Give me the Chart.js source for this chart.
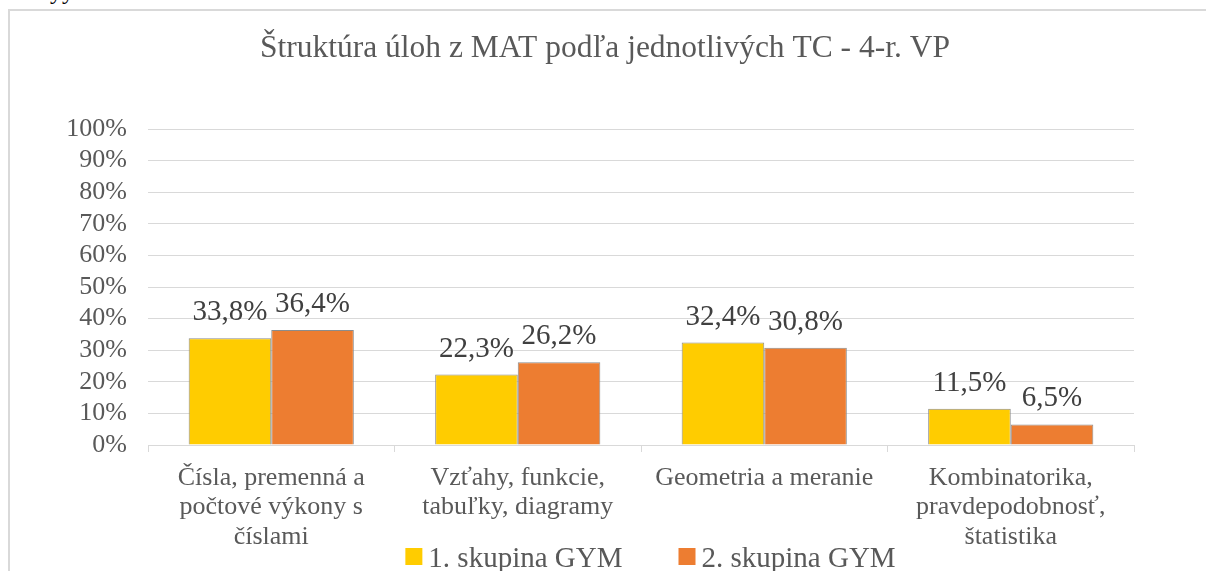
<!DOCTYPE html>
<html>
<head>
<meta charset="utf-8">
<script src="https://cdn.jsdelivr.net/npm/chart.js@4.4.1/dist/chart.umd.min.js"></script>
<style>
    html, body { margin: 0; padding: 0; background: #fff; overflow: hidden; }
    #frame {
        position: absolute; left: 8px; top: 9px; width: 1220px; height: 600px;
        border-left: 2px solid #d9d9d9; border-top: 2px solid #d9d9d9;
    }
    #clip {
        position: absolute; left: 50px; top: -22px;
        font: 24px "Liberation Serif", serif; color: #000;
    }
    #wrap { position: absolute; left: 0; top: 0; width: 1206px; height: 571px; }
</style>
</head>
<body>
<div id="clip">yy</div>
<div id="frame"></div>
<div id="wrap"><canvas id="chart" width="1206" height="571"></canvas></div>
<script>
var chartTitle = 'Štruktúra úloh z MAT podľa jednotlivých TC - 4-r. VP';
var categories = [
    ['Čísla, premenná a', 'počtové výkony s', 'číslami'],
    ['Vzťahy, funkcie,', 'tabuľky, diagramy'],
    ['Geometria a meranie'],
    ['Kombinatorika,', 'pravdepodobnosť,', 'štatistika']
];
var seriesNames = ['1. skupina GYM', '2. skupina GYM'];
var group1 = [33.8, 22.3, 32.4, 11.5];
var group2 = [36.4, 26.2, 30.8, 6.5];
var yTicks = [0, 10, 20, 30, 40, 50, 60, 70, 80, 90, 100];

var serif = '"Liberation Serif", "Times New Roman", serif';
var grey = '#595959';

function fmt(v) {
    return v.toFixed(1).replace('.', ',') + '%';
}

// title, value labels and legend are drawn here so they can sit where Excel put them
var extras = {
    id: 'extras',
    afterDatasetsDraw: function(chart) {
        var ctx = chart.ctx;
        ctx.save();
        ctx.font = '29px ' + serif;
        ctx.fillStyle = '#404040';
        ctx.textAlign = 'center';
        ctx.textBaseline = 'alphabetic';
        chart.data.datasets.forEach(function(ds, i) {
            chart.getDatasetMeta(i).data.forEach(function(bar, j) {
                ctx.fillText(fmt(ds.data[j]), bar.x, bar.y - 18);
            });
        });
        ctx.restore();
    },
    afterDraw: function(chart) {
        var ctx = chart.ctx;
        ctx.save();
        // title
        ctx.font = '31.5px ' + serif;
        ctx.fillStyle = grey;
        ctx.textAlign = 'center';
        ctx.textBaseline = 'alphabetic';
        ctx.fillText(chartTitle, 605, 57);

        // legend
        ctx.font = '29px ' + serif;
        ctx.textAlign = 'left';
        var box = 17, gap = 6, spacing = 56;
        var widths = chart.data.datasets.map(function(ds) {
            return box + gap + ctx.measureText(ds.label).width;
        });
        var total = widths.reduce(function(a, b) { return a + b; }, 0) + spacing * (widths.length - 1);
        var x = 650.5 - total / 2;
        chart.data.datasets.forEach(function(ds, i) {
            ctx.fillStyle = ds.backgroundColor;
            ctx.fillRect(x, 548, box, box);
            ctx.fillStyle = grey;
            ctx.fillText(ds.label, x + box + gap, 567);
            x += widths[i] + spacing;
        });
        ctx.restore();
    }
};

new Chart(document.getElementById('chart'), {
    type: 'bar',
    data: {
        labels: categories,
        datasets: [{
            label: seriesNames[0],
            data: group1,
            backgroundColor: '#ffcc00',
            borderColor: '#8c8c8c',
            borderWidth: 1
        }, {
            label: seriesNames[1],
            data: group2,
            backgroundColor: '#ed7d31',
            borderColor: '#8c8c8c',
            borderWidth: 1
        }]
    },
    plugins: [extras],
    options: {
        responsive: false,
        animation: false,
        layout: { padding: { top: 129, left: 10, right: 72, bottom: 0 } },
        datasets: { bar: { categoryPercentage: 0.67, barPercentage: 1 } },
        plugins: {
            title: { display: false },
            legend: { display: false },
            tooltip: { enabled: false }
        },
        scales: {
            x: {
                grid: { drawOnChartArea: false, drawTicks: true, tickLength: 7, color: '#d9d9d9', offset: true },
                border: { color: '#d9d9d9' },
                ticks: {
                    color: grey,
                    font: { family: serif, size: 26, lineHeight: 1.14 },
                    maxRotation: 0,
                    autoSkip: false,
                    padding: 11
                },
                afterFit: function(scale) { scale.height = 126; }
            },
            y: {
                min: 0,
                max: 100,
                afterBuildTicks: function(scale) {
                    scale.ticks = yTicks.map(function(v) { return { value: v }; });
                },
                grid: { color: '#d9d9d9', drawTicks: false },
                border: { display: false },
                ticks: {
                    color: grey,
                    font: { family: serif, size: 26 },
                    padding: 21,
                    autoSkip: false,
                    callback: function(v) { return v + '%'; }
                },
                afterFit: function(scale) { scale.width = 138; }
            }
        }
    }
});
</script>
</body>
</html>
